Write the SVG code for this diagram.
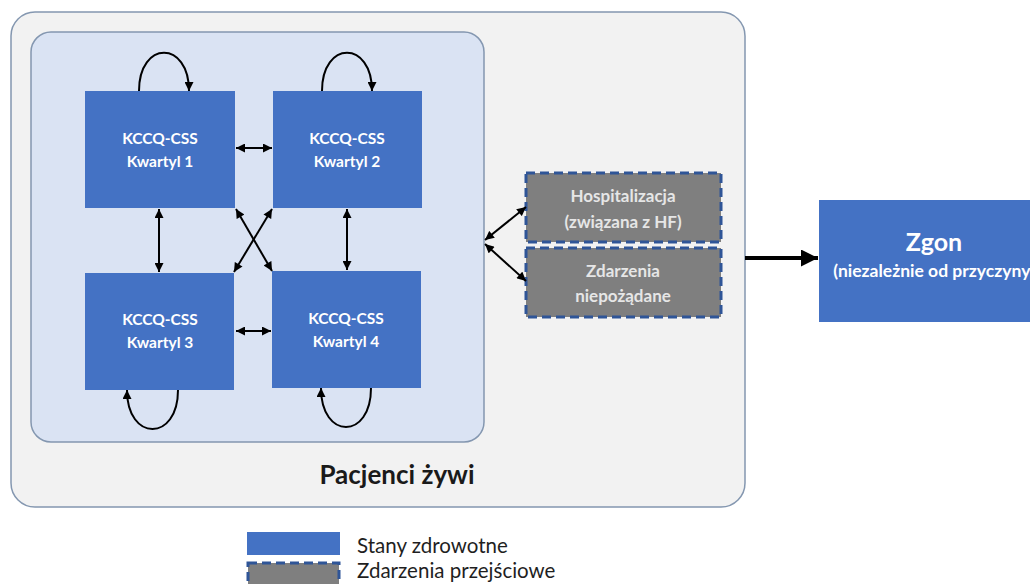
<svg xmlns="http://www.w3.org/2000/svg" width="1030" height="584" viewBox="0 0 1030 584">
<style>
.state{fill:#4472c4}
.trans{fill:#7f7f7f;stroke:#2f5597;stroke-width:3;stroke-dasharray:9 5}
.lbl{font-family:Lato,"Liberation Sans",sans-serif;font-weight:bold;font-size:15.5px;fill:#ffffff;text-anchor:middle}
.tl{font-family:Lato,"Liberation Sans",sans-serif;font-weight:bold;font-size:17px;fill:#e6e6e6;text-anchor:middle}
.con{fill:none;stroke:#000;stroke-width:2}
.leg{font-family:Lato,"Liberation Sans",sans-serif;font-size:20.5px;fill:#1f1f1f}
</style>
<defs>
<marker id="ah" viewBox="0 0 10 10" refX="10" refY="5" markerWidth="10" markerHeight="9" markerUnits="userSpaceOnUse" orient="auto-start-reverse">
<path d="M0,0 L10,5 L0,10 Z" fill="#000"/>
</marker>
<marker id="big" viewBox="0 0 10 10" refX="10" refY="5" markerWidth="17" markerHeight="17" markerUnits="userSpaceOnUse" orient="auto">
<path d="M0,0 L10,5 L0,10 Z" fill="#000"/>
</marker>
</defs>
<rect width="1030" height="584" fill="#ffffff"/>
<g id="alive">
<rect x="11" y="12" width="734" height="495" rx="24" fill="#f2f2f2" stroke="#8497b0" stroke-width="1.5"/>
<text x="397" y="484" style="font-family:Lato,'Liberation Sans',sans-serif;font-weight:bold;font-size:26px;fill:#1a1a1a;text-anchor:middle">Pacjenci żywi</text>
</g>
<g id="health">
<rect x="31" y="32" width="453" height="410" rx="20" fill="#dae3f3" stroke="#8497b0" stroke-width="1.5"/>
</g>
<g id="k1">
<rect class="state" x="85" y="91" width="150" height="117"/>
<text class="lbl" x="160" y="144">KCCQ-CSS</text>
<text class="lbl" x="160" y="167">Kwartyl 1</text>
</g>
<g id="k2">
<rect class="state" x="273" y="91" width="149" height="117"/>
<text class="lbl" x="347" y="144">KCCQ-CSS</text>
<text class="lbl" x="347" y="167">Kwartyl 2</text>
</g>
<g id="k3">
<rect class="state" x="85" y="273" width="149" height="117"/>
<text class="lbl" x="160" y="325">KCCQ-CSS</text>
<text class="lbl" x="160" y="348">Kwartyl 3</text>
</g>
<g id="k4">
<rect class="state" x="272" y="271" width="149" height="117"/>
<text class="lbl" x="346" y="324">KCCQ-CSS</text>
<text class="lbl" x="346" y="347">Kwartyl 4</text>
</g>
<g id="hosp">
<rect class="trans" x="526" y="173" width="195" height="69"/>
<text class="tl" x="623" y="202">Hospitalizacja</text>
<text class="tl" x="623" y="228">(związana z HF)</text>
</g>
<g id="ae">
<rect class="trans" x="526" y="248" width="195" height="69"/>
<text class="tl" x="623" y="277">Zdarzenia</text>
<text class="tl" x="623" y="302">niepożądane</text>
</g>
<g id="death">
<rect class="state" x="819" y="200" width="230" height="122"/>
<text class="lbl" x="934" y="251" style="font-size:25px">Zgon</text>
<text class="lbl" x="934" y="277" style="font-size:17.5px">(niezależnie od przyczyny)</text>
</g>
<g id="connectors">
<path class="con" d="M139,91 C139,40 189,40 189,91" marker-end="url(#ah)"/>
<path class="con" d="M322,91 C322,40 372,40 372,91" marker-end="url(#ah)"/>
<path class="con" d="M178,390 C178,442 127,442 127,390" marker-end="url(#ah)"/>
<path class="con" d="M371,388 C371,440 321,440 321,388" marker-end="url(#ah)"/>
<path class="con" d="M236,148 L272,148" marker-start="url(#ah)" marker-end="url(#ah)"/>
<path class="con" d="M236,331 L271,331" marker-start="url(#ah)" marker-end="url(#ah)"/>
<path class="con" d="M159,209 L159,272" marker-start="url(#ah)" marker-end="url(#ah)"/>
<path class="con" d="M347,209 L347,270" marker-start="url(#ah)" marker-end="url(#ah)"/>
<path class="con" d="M236,209 L272,271" marker-start="url(#ah)" marker-end="url(#ah)"/>
<path class="con" d="M272,209 L234,272" marker-start="url(#ah)" marker-end="url(#ah)"/>
<path class="con" d="M485,240 L526,207" marker-start="url(#ah)" marker-end="url(#ah)"/>
<path class="con" d="M485,244 L526,281" marker-start="url(#ah)" marker-end="url(#ah)"/>
<path d="M745,258 L818,258" fill="none" stroke="#000" stroke-width="4" marker-end="url(#big)"/>
</g>
<g id="legend">
<rect class="state" x="247" y="532" width="93" height="23"/>
<rect class="trans" x="248" y="563" width="91" height="30"/>
<text class="leg" x="357" y="553">Stany zdrowotne</text>
<text class="leg" x="357" y="578">Zdarzenia przejściowe</text>
</g>
</svg>
